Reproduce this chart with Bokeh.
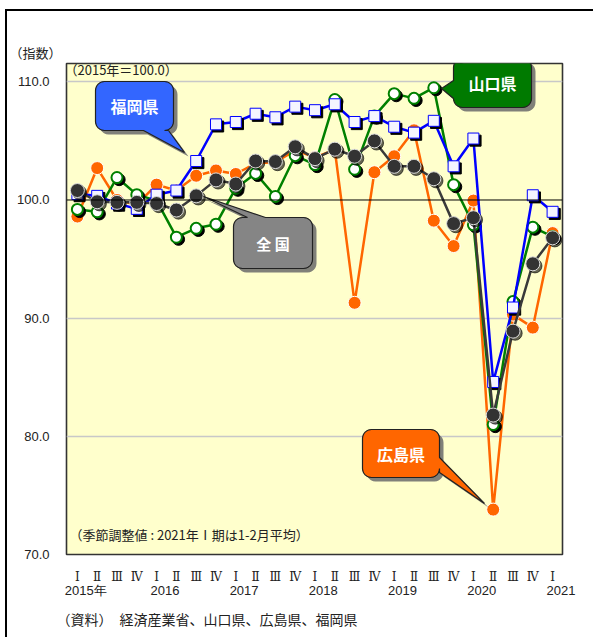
import math
from bokeh.plotting import figure
from bokeh.models import (Range1d, FixedTicker, Span, Label, LinearAxis, ColumnDataSource,
                          CustomJSTickFormatter, PrintfTickFormatter, Title)
from bokeh.transform import dodge
from bokeh.embed import file_html
from bokeh.resources import INLINE

# ---------------- data ----------------
quarter_labels = ["Ⅰ", "Ⅱ", "Ⅲ", "Ⅳ"] * 6 + ["Ⅰ"]
year_labels = ["2015年", "2016", "2017", "2018", "2019", "2020", "2021"]
year_first_quarter = [0, 4, 8, 12, 16, 20, 24]
idx = list(range(25))

national = [100.8, 99.85, 99.8, 99.8, 99.7, 99.15, 100.35, 101.7, 101.35, 103.3, 103.25, 104.5,
            103.5, 104.3, 103.7, 105.0, 102.85, 102.85, 101.8, 98.0, 98.5, 81.8, 88.9, 94.6, 96.8]
yamaguchi = [99.2, 99.0, 101.9, 100.45, 99.95, 96.85, 97.6, 97.95, 101.0, 102.25, 100.3, 103.75,
             103.0, 108.5, 102.6, 107.1, 109.0, 108.6, 109.5, 101.3, 97.9, 81.0, 91.4, 97.7, 96.9]
hiroshima = [98.6, 102.7, 100.0, 99.6, 101.3, 100.8, 102.05, 102.5, 102.2, 103.1, 103.2, 104.2,
             103.6, 104.25, 91.3, 102.35, 103.7, 105.9, 98.25, 96.1, 99.95, 73.8, 90.3, 89.2, 97.2]
fukuoka = [100.5, 100.35, 99.7, 99.25, 100.45, 100.8, 103.3, 106.4, 106.6, 107.3, 107.0, 107.9,
           107.6, 108.1, 106.6, 107.1, 106.2, 105.7, 106.7, 102.85, 105.2, 84.6, 90.9, 100.4, 99.0]

y_ticks = [70, 80, 90, 100, 110]
grid_ticks = [80, 90, 110]
base_value = 100

src = ColumnDataSource(dict(x=idx, nat=national, yam=yamaguchi, hir=hiroshima, fuk=fukuoka))

# ---------------- layout (window px) ----------------
OX, OY = 7, 11            # canvas origin in window
FL, FR, FT, FB = 66, 562, 63, 554   # frame edges in window
XMIN, XMAX = -0.55, 24.5
YMIN, YMAX = 70, 111.55
W, H = 588, 628

def X(px):
    return XMIN + (px - FL) * (XMAX - XMIN) / (FR - FL)

def Y(py):
    return YMAX - (py - FT) * (YMAX - YMIN) / (FB - FT)

p = figure(width=W, height=H, x_range=Range1d(XMIN, XMAX), y_range=Range1d(YMIN, YMAX),
           output_backend="svg", toolbar_location=None,
           min_border_left=FL - OX, min_border_top=FT - OY,
           min_border_right=W - (FR - OX), min_border_bottom=H - (FB - OY),
           background_fill_color="#FFFFCC", border_fill_color="white",
           outline_line_color="#333333", outline_line_width=1.6)
p.styles = {"border-top": "2px solid black", "border-left": "2px solid black",
            "margin-left": "5px", "margin-top": "9px"}

# axes
p.yaxis.ticker = FixedTicker(ticks=y_ticks)
p.yaxis.formatter = PrintfTickFormatter(format="%.1f")
p.yaxis.axis_line_color = None
p.yaxis.major_tick_line_color = None
p.yaxis.minor_tick_line_color = None
p.yaxis.major_label_standoff = 11
p.yaxis.major_label_text_font = "Liberation Sans"
p.yaxis.major_label_text_font_size = "13px"
p.yaxis.major_label_text_color = "#222222"

p.xaxis.ticker = FixedTicker(ticks=idx)
p.xaxis.major_label_overrides = {i: q for i, q in zip(idx, quarter_labels)}
p.xaxis.axis_line_color = None
p.xaxis.major_tick_line_color = None
p.xaxis.minor_tick_line_color = None
p.xaxis.major_label_standoff = 9
p.xaxis.major_label_text_font = "DejaVu Serif"
p.xaxis.major_label_text_font_size = "12px"
p.xaxis.major_label_text_color = "#222222"

YEAR_SHIFT = 0.42
year_axis = LinearAxis(ticker=FixedTicker(ticks=[i + YEAR_SHIFT for i in year_first_quarter]),
                       formatter=CustomJSTickFormatter(args=dict(labels=year_labels, shift=YEAR_SHIFT),
                                                       code="return labels[Math.round((tick - shift) / 4)] || '';"),
                       axis_line_color=None, major_tick_line_color=None, minor_tick_line_color=None,
                       major_label_standoff=-10, major_label_text_font="Liberation Sans",
                       major_label_text_font_size="13px", major_label_text_color="#222222")
p.add_layout(year_axis, "below")

p.add_layout(Title(text="（資料）　経済産業省、山口県、広島県、福岡県", align="left", offset=-10,
                   standoff=12, text_font="Noto Sans CJK JP", text_font_size="14px",
                   text_font_style="normal", text_color="#222222"), "below")
p.add_layout(Title(text="（指数）", align="left", offset=-57, standoff=3,
                   text_font="Noto Sans CJK JP", text_font_size="13px",
                   text_font_style="normal", text_color="#222222"), "above")

p.xgrid.grid_line_color = None
p.ygrid.ticker = FixedTicker(ticks=grid_ticks)
p.ygrid.grid_line_color = "#C8C8C8"
p.ygrid.grid_line_width = 1.5
p.add_layout(Span(location=base_value, dimension="width", line_color="black", line_width=1))

SDX, SDY = 0.11, -0.18   # marker drop shadow (about 2px)

# Hiroshima
p.line("x", "hir", source=src, line_color="#FF6600", line_width=2.5)
p.scatter("x", "hir", source=src, size=13, fill_color="#FF6600", line_color="white", line_width=1)
# Yamaguchi
p.line("x", "yam", source=src, line_color="#008000", line_width=2.5)
p.scatter(dodge("x", SDX), dodge("yam", SDY), source=src, size=12, fill_color="black", line_color="black")
p.scatter("x", "yam", source=src, size=11, fill_color="white", line_color="#008000", line_width=2)
# Fukuoka
p.line("x", "fuk", source=src, line_color="#0000FF", line_width=2.5)
p.scatter(dodge("x", SDX), dodge("fuk", SDY), source=src, marker="square", size=11,
          fill_color="black", line_color="black")
p.scatter("x", "fuk", source=src, marker="square", size=11, fill_color="#F4F4FF",
          line_color="#0000FF", line_width=1)
# National
p.line("x", "nat", source=src, line_color="#3A3A3A", line_width=2.5)
p.scatter(dodge("x", SDX), dodge("nat", SDY), source=src, size=14, fill_color="black",
          line_color="black", alpha=0.6)
p.scatter("x", "nat", source=src, size=14, fill_color="#333333", line_color="#DDDDDD", line_width=1)

# ---------------- callouts ----------------
def callout_poly(x0, y0, x1, y1, r, edge, a, b, tip):
    pts = []
    def arc(cx, cy, s, e, n=6):
        for k in range(n + 1):
            t = math.radians(s + (e - s) * k / n)
            pts.append((cx + r * math.cos(t), cy + r * math.sin(t)))
    arc(x0 + r, y0 + r, 180, 270)
    if edge == "top":
        pts.extend([(a, y0), tip, (b, y0)])
    arc(x1 - r, y0 + r, 270, 360)
    if edge == "right":
        pts.extend([(x1, a), tip, (x1, b)])
    arc(x1 - r, y1 - r, 0, 90)
    if edge == "bottom":
        pts.extend([(b, y1), tip, (a, y1)])
    arc(x0 + r, y1 - r, 90, 180)
    if edge == "left":
        pts.extend([(x0, b), tip, (x0, a)])
    return pts

def callout(text, box, edge, a, b, tip, color, font_size="16px"):
    x0, y0, x1, y1 = box
    pts = callout_poly(x0, y0, x1, y1, 9, edge, a, b, tip)
    sh = 4
    p.patch([X(u + sh) for u, v in pts], [Y(v + sh) for u, v in pts],
            fill_color="#6A6A6A", line_color=None, fill_alpha=0.85)
    p.patch([X(u) for u, v in pts], [Y(v) for u, v in pts],
            fill_color=color, line_color="#222222", line_width=1.2)
    p.add_layout(Label(x=X((x0 + x1) / 2), y=Y((y0 + y1) / 2), text=text,
                       text_align="center", text_baseline="middle", text_color="white",
                       text_font="Noto Sans CJK JP", text_font_style="bold",
                       text_font_size=font_size))

callout("福岡県", (95, 81, 173, 130), "bottom", 143, 168, (184, 152), "#3366FF")
callout("山口県", (453, 58, 531, 107), "left", 80, 98, (441, 88), "#007A00")
callout("全 国", (233, 217, 312, 268), "top", 247, 265, (203, 196), "#858585", "15px")
callout("広島県", (362, 429, 439, 477), "right", 457, 472, (484, 503), "#FF6600")

# ---------------- texts inside the frame ----------------
def note(text, px, py, size="12px"):
    p.add_layout(Label(x=X(px), y=Y(py), text=text, text_align="left", text_baseline="middle",
                       text_font="Noto Sans CJK JP", text_font_size=size, text_color="#222222"))

note("（2015年＝100.0）", 64, 69, "13px")
note("（季節調整値 : 2021年Ⅰ期は1-2月平均）", 69, 534, "13px")

open("out.html", "w").write(file_html(p, INLINE))
